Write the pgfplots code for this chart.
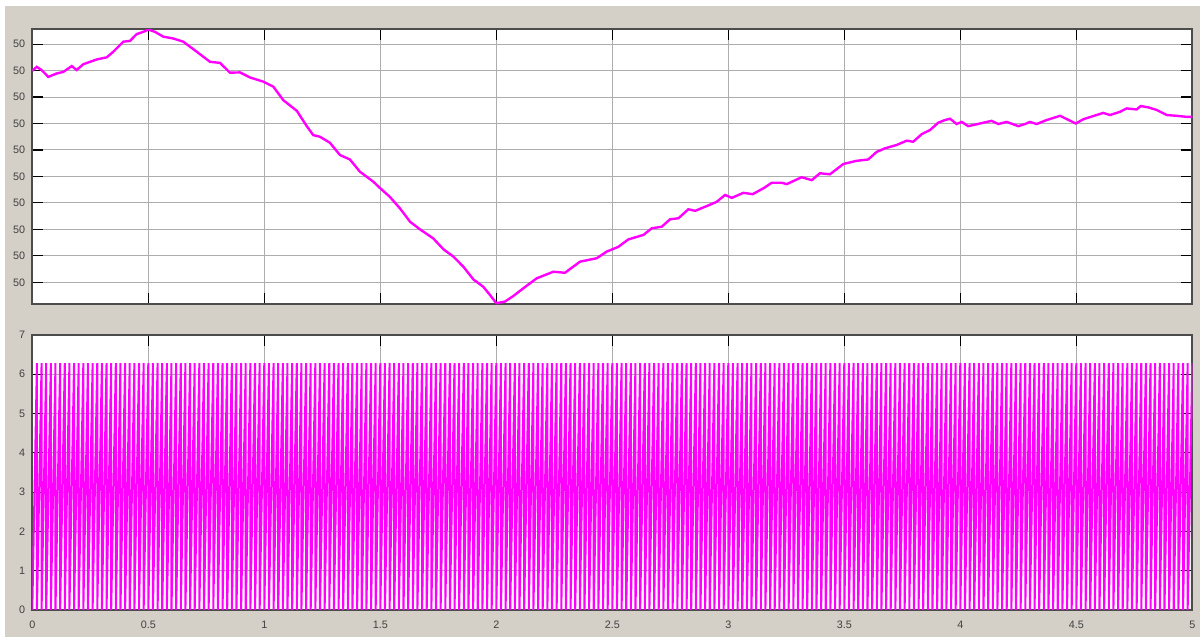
\documentclass[border=0pt]{standalone}
\usepackage{pgfplots}
\pgfplotsset{compat=1.18}
\usepackage{fontspec}
\setmainfont{Liberation Sans}

\definecolor{scopebg}{HTML}{D4D0C8}
\definecolor{scopeline}{HTML}{FF00FF}

% frequency deviation above 49.991 Hz, in mHz (every tick reads "50")
\pgfplotstableread{
t      f
0.000  7.99
0.019  8.14
0.040  8.02
0.069  7.76
0.105  7.89
0.134  7.95
0.170  8.17
0.191  8.02
0.220  8.24
0.278  8.42
0.321  8.50
0.349  8.71
0.392  9.09
0.421  9.12
0.450  9.38
0.478  9.46
0.500  9.55
0.529  9.46
0.565  9.28
0.608  9.21
0.651  9.09
0.709  8.71
0.766  8.33
0.809  8.29
0.852  7.92
0.895  7.93
0.938  7.74
0.996  7.58
1.039  7.39
1.082  6.88
1.140  6.48
1.183  5.90
1.211  5.56
1.240  5.50
1.283  5.27
1.326  4.81
1.369  4.64
1.412  4.18
1.470  3.80
1.500  3.55
1.541  3.23
1.585  2.79
1.628  2.29
1.671  2.00
1.728  1.66
1.772  1.25
1.815  0.97
1.858  0.59
1.901  0.11
1.944 -0.17
1.973 -0.48
2.000 -0.79
2.037 -0.73
2.073 -0.52
2.116 -0.23
2.174  0.15
2.246  0.40
2.296  0.36
2.361  0.78
2.433  0.91
2.476  1.16
2.526  1.34
2.569  1.62
2.634  1.79
2.670  2.04
2.713  2.10
2.749  2.38
2.785  2.42
2.828  2.76
2.857  2.70
2.907  2.88
2.950  3.04
2.986  3.30
3.015  3.19
3.065  3.38
3.105  3.33
3.151  3.55
3.187  3.76
3.230  3.76
3.252  3.71
3.316  3.97
3.360  3.86
3.395  4.12
3.438  4.08
3.496  4.47
3.553  4.59
3.603  4.64
3.640  4.93
3.675  5.06
3.726  5.19
3.769  5.35
3.797  5.31
3.834  5.60
3.869  5.75
3.905  6.03
3.934  6.13
3.956  6.18
3.984  5.98
4.006  6.06
4.034  5.90
4.085  6.00
4.135  6.10
4.164  5.98
4.200  6.06
4.250  5.90
4.279  5.98
4.300  6.06
4.329  5.98
4.372  6.13
4.430  6.29
4.458  6.17
4.498  6.00
4.530  6.16
4.573  6.28
4.616  6.40
4.645  6.32
4.688  6.44
4.717  6.57
4.760  6.53
4.778  6.66
4.810  6.61
4.847  6.51
4.890  6.32
4.933  6.29
4.976  6.25
5.000  6.25
}\freqdata

\pgfplotsset{scope/.style={
    scale only axis, width=580pt, height=137.6pt,
    xmin=0, xmax=5, xtick={0,0.5,1,1.5,2,2.5,3,3.5,4,4.5,5},
    tick align=inside, tick pos=both,
    major tick length=5.5pt,
    grid=major, major grid style={black!32, line width=0.5pt},
    axis line style={black!70, line width=0.8pt},
    every tick/.style={black, line width=0.55pt},
    tick label style={font=\fontsize{5.4}{6}\selectfont, text=black!75},
    /pgf/number format/assume math mode=true,
    axis background/.style={fill=white},
}}

\begin{document}
\begin{tikzpicture}
\fill[white] (0,0) rectangle (600pt,318.5pt);
\fill[scopebg] (2.5pt,0) rectangle (600pt,315.5pt);

\begin{axis}[scope, at={(16.15pt,166.35pt)}, anchor=south west,
    ymin=-0.831, ymax=9.566, ytick={0,...,9}, yticklabel={50},
    xticklabels={}]
  \addplot[scopeline, line width=1.2pt] table[x=t, y=f] {\freqdata};
\end{axis}

\begin{axis}[scope, at={(16.15pt,13.5pt)}, anchor=south west,
    ymin=0, ymax=7, ytick={0,...,7},
    xticklabel style={yshift=-2pt}]
  \addplot[scopeline, line width=1pt] coordinates {
(0,0)
(0.02,6.28)(0.02,0)(0.04,6.28)(0.04,0)(0.06,6.28)(0.06,0)(0.08,6.28)(0.08,0)(0.10,6.28)(0.10,0)
(0.12,6.28)(0.12,0)(0.14,6.28)(0.14,0)(0.16,6.28)(0.16,0)(0.18,6.28)(0.18,0)(0.20,6.28)(0.20,0)
(0.22,6.28)(0.22,0)(0.24,6.28)(0.24,0)(0.26,6.28)(0.26,0)(0.28,6.28)(0.28,0)(0.30,6.28)(0.30,0)
(0.32,6.28)(0.32,0)(0.34,6.28)(0.34,0)(0.36,6.28)(0.36,0)(0.38,6.28)(0.38,0)(0.40,6.28)(0.40,0)
(0.42,6.28)(0.42,0)(0.44,6.28)(0.44,0)(0.46,6.28)(0.46,0)(0.48,6.28)(0.48,0)(0.50,6.28)(0.50,0)
(0.52,6.28)(0.52,0)(0.54,6.28)(0.54,0)(0.56,6.28)(0.56,0)(0.58,6.28)(0.58,0)(0.60,6.28)(0.60,0)
(0.62,6.28)(0.62,0)(0.64,6.28)(0.64,0)(0.66,6.28)(0.66,0)(0.68,6.28)(0.68,0)(0.70,6.28)(0.70,0)
(0.72,6.28)(0.72,0)(0.74,6.28)(0.74,0)(0.76,6.28)(0.76,0)(0.78,6.28)(0.78,0)(0.80,6.28)(0.80,0)
(0.82,6.28)(0.82,0)(0.84,6.28)(0.84,0)(0.86,6.28)(0.86,0)(0.88,6.28)(0.88,0)(0.90,6.28)(0.90,0)
(0.92,6.28)(0.92,0)(0.94,6.28)(0.94,0)(0.96,6.28)(0.96,0)(0.98,6.28)(0.98,0)(1.00,6.28)(1.00,0)
(1.02,6.28)(1.02,0)(1.04,6.28)(1.04,0)(1.06,6.28)(1.06,0)(1.08,6.28)(1.08,0)(1.10,6.28)(1.10,0)
(1.12,6.28)(1.12,0)(1.14,6.28)(1.14,0)(1.16,6.28)(1.16,0)(1.18,6.28)(1.18,0)(1.20,6.28)(1.20,0)
(1.22,6.28)(1.22,0)(1.24,6.28)(1.24,0)(1.26,6.28)(1.26,0)(1.28,6.28)(1.28,0)(1.30,6.28)(1.30,0)
(1.32,6.28)(1.32,0)(1.34,6.28)(1.34,0)(1.36,6.28)(1.36,0)(1.38,6.28)(1.38,0)(1.40,6.28)(1.40,0)
(1.42,6.28)(1.42,0)(1.44,6.28)(1.44,0)(1.46,6.28)(1.46,0)(1.48,6.28)(1.48,0)(1.50,6.28)(1.50,0)
(1.52,6.28)(1.52,0)(1.54,6.28)(1.54,0)(1.56,6.28)(1.56,0)(1.58,6.28)(1.58,0)(1.60,6.28)(1.60,0)
(1.62,6.28)(1.62,0)(1.64,6.28)(1.64,0)(1.66,6.28)(1.66,0)(1.68,6.28)(1.68,0)(1.70,6.28)(1.70,0)
(1.72,6.28)(1.72,0)(1.74,6.28)(1.74,0)(1.76,6.28)(1.76,0)(1.78,6.28)(1.78,0)(1.80,6.28)(1.80,0)
(1.82,6.28)(1.82,0)(1.84,6.28)(1.84,0)(1.86,6.28)(1.86,0)(1.88,6.28)(1.88,0)(1.90,6.28)(1.90,0)
(1.92,6.28)(1.92,0)(1.94,6.28)(1.94,0)(1.96,6.28)(1.96,0)(1.98,6.28)(1.98,0)(2.00,6.28)(2.00,0)
(2.02,6.28)(2.02,0)(2.04,6.28)(2.04,0)(2.06,6.28)(2.06,0)(2.08,6.28)(2.08,0)(2.10,6.28)(2.10,0)
(2.12,6.28)(2.12,0)(2.14,6.28)(2.14,0)(2.16,6.28)(2.16,0)(2.18,6.28)(2.18,0)(2.20,6.28)(2.20,0)
(2.22,6.28)(2.22,0)(2.24,6.28)(2.24,0)(2.26,6.28)(2.26,0)(2.28,6.28)(2.28,0)(2.30,6.28)(2.30,0)
(2.32,6.28)(2.32,0)(2.34,6.28)(2.34,0)(2.36,6.28)(2.36,0)(2.38,6.28)(2.38,0)(2.40,6.28)(2.40,0)
(2.42,6.28)(2.42,0)(2.44,6.28)(2.44,0)(2.46,6.28)(2.46,0)(2.48,6.28)(2.48,0)(2.50,6.28)(2.50,0)
(2.52,6.28)(2.52,0)(2.54,6.28)(2.54,0)(2.56,6.28)(2.56,0)(2.58,6.28)(2.58,0)(2.60,6.28)(2.60,0)
(2.62,6.28)(2.62,0)(2.64,6.28)(2.64,0)(2.66,6.28)(2.66,0)(2.68,6.28)(2.68,0)(2.70,6.28)(2.70,0)
(2.72,6.28)(2.72,0)(2.74,6.28)(2.74,0)(2.76,6.28)(2.76,0)(2.78,6.28)(2.78,0)(2.80,6.28)(2.80,0)
(2.82,6.28)(2.82,0)(2.84,6.28)(2.84,0)(2.86,6.28)(2.86,0)(2.88,6.28)(2.88,0)(2.90,6.28)(2.90,0)
(2.92,6.28)(2.92,0)(2.94,6.28)(2.94,0)(2.96,6.28)(2.96,0)(2.98,6.28)(2.98,0)(3.00,6.28)(3.00,0)
(3.02,6.28)(3.02,0)(3.04,6.28)(3.04,0)(3.06,6.28)(3.06,0)(3.08,6.28)(3.08,0)(3.10,6.28)(3.10,0)
(3.12,6.28)(3.12,0)(3.14,6.28)(3.14,0)(3.16,6.28)(3.16,0)(3.18,6.28)(3.18,0)(3.20,6.28)(3.20,0)
(3.22,6.28)(3.22,0)(3.24,6.28)(3.24,0)(3.26,6.28)(3.26,0)(3.28,6.28)(3.28,0)(3.30,6.28)(3.30,0)
(3.32,6.28)(3.32,0)(3.34,6.28)(3.34,0)(3.36,6.28)(3.36,0)(3.38,6.28)(3.38,0)(3.40,6.28)(3.40,0)
(3.42,6.28)(3.42,0)(3.44,6.28)(3.44,0)(3.46,6.28)(3.46,0)(3.48,6.28)(3.48,0)(3.50,6.28)(3.50,0)
(3.52,6.28)(3.52,0)(3.54,6.28)(3.54,0)(3.56,6.28)(3.56,0)(3.58,6.28)(3.58,0)(3.60,6.28)(3.60,0)
(3.62,6.28)(3.62,0)(3.64,6.28)(3.64,0)(3.66,6.28)(3.66,0)(3.68,6.28)(3.68,0)(3.70,6.28)(3.70,0)
(3.72,6.28)(3.72,0)(3.74,6.28)(3.74,0)(3.76,6.28)(3.76,0)(3.78,6.28)(3.78,0)(3.80,6.28)(3.80,0)
(3.82,6.28)(3.82,0)(3.84,6.28)(3.84,0)(3.86,6.28)(3.86,0)(3.88,6.28)(3.88,0)(3.90,6.28)(3.90,0)
(3.92,6.28)(3.92,0)(3.94,6.28)(3.94,0)(3.96,6.28)(3.96,0)(3.98,6.28)(3.98,0)(4.00,6.28)(4.00,0)
(4.02,6.28)(4.02,0)(4.04,6.28)(4.04,0)(4.06,6.28)(4.06,0)(4.08,6.28)(4.08,0)(4.10,6.28)(4.10,0)
(4.12,6.28)(4.12,0)(4.14,6.28)(4.14,0)(4.16,6.28)(4.16,0)(4.18,6.28)(4.18,0)(4.20,6.28)(4.20,0)
(4.22,6.28)(4.22,0)(4.24,6.28)(4.24,0)(4.26,6.28)(4.26,0)(4.28,6.28)(4.28,0)(4.30,6.28)(4.30,0)
(4.32,6.28)(4.32,0)(4.34,6.28)(4.34,0)(4.36,6.28)(4.36,0)(4.38,6.28)(4.38,0)(4.40,6.28)(4.40,0)
(4.42,6.28)(4.42,0)(4.44,6.28)(4.44,0)(4.46,6.28)(4.46,0)(4.48,6.28)(4.48,0)(4.50,6.28)(4.50,0)
(4.52,6.28)(4.52,0)(4.54,6.28)(4.54,0)(4.56,6.28)(4.56,0)(4.58,6.28)(4.58,0)(4.60,6.28)(4.60,0)
(4.62,6.28)(4.62,0)(4.64,6.28)(4.64,0)(4.66,6.28)(4.66,0)(4.68,6.28)(4.68,0)(4.70,6.28)(4.70,0)
(4.72,6.28)(4.72,0)(4.74,6.28)(4.74,0)(4.76,6.28)(4.76,0)(4.78,6.28)(4.78,0)(4.80,6.28)(4.80,0)
(4.82,6.28)(4.82,0)(4.84,6.28)(4.84,0)(4.86,6.28)(4.86,0)(4.88,6.28)(4.88,0)(4.90,6.28)(4.90,0)
(4.92,6.28)(4.92,0)(4.94,6.28)(4.94,0)(4.96,6.28)(4.96,0)(4.98,6.28)(4.98,0)(5.00,6.28)
  };
\end{axis}

\pgfresetboundingbox
\useasboundingbox (0,0) rectangle (600pt,318.5pt);
\end{tikzpicture}
\end{document}
